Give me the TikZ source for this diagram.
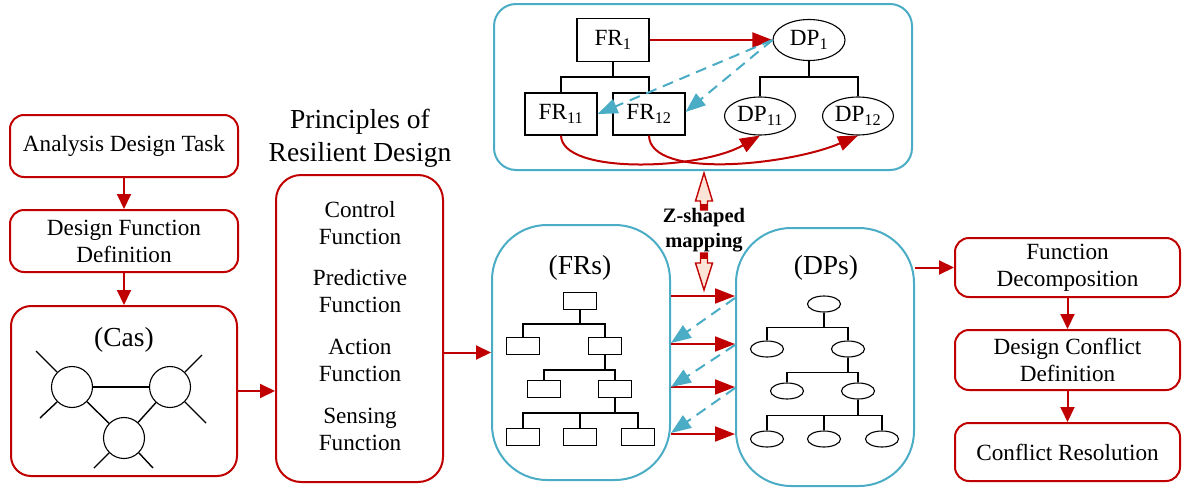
\documentclass[tikz,border=0pt]{standalone}
\usepackage{fontspec}
\setmainfont{Liberation Serif}
\usetikzlibrary{shapes.geometric,arrows.meta,calc}
\definecolor{boxred}{RGB}{192,0,0}
\definecolor{boxblue}{RGB}{75,172,198}
\definecolor{arrowfill}{RGB}{252,228,214}
\newcommand{\txtsize}{\fontsize{23.2}{27}\selectfont}
\newcommand{\bigsize}{\fontsize{27.5}{33}\selectfont}
\newcommand{\zsize}{\fontsize{20.5}{25}\selectfont}
\tikzset{
  redbox/.style={draw=boxred, line width=2pt, rounded corners=14pt, align=center, font=\txtsize, inner sep=0pt},
  bluebox/.style={draw=boxblue, line width=2pt, inner sep=0pt},
  redarrow/.style={draw=boxred, line width=2pt, -{Triangle[length=15pt,width=14pt]}},
  maparrow/.style={draw=boxred, line width=2pt, -{Triangle[length=20pt,width=15pt]}},
  bluedash/.style={draw=boxblue, line width=2pt, dash pattern=on 11pt off 7pt, -{Triangle[length=20pt,width=15pt]}},
  frleaf/.style={draw, line width=1.1pt, minimum width=33pt, minimum height=17pt, inner sep=0pt},
  dpleaf/.style={draw, ellipse, line width=1.1pt, minimum width=33pt, minimum height=16pt, inner sep=0pt},
  treeline/.style={line width=1.4pt},
  hollow/.style={draw=boxred, fill=arrowfill, line width=1.4pt, line join=miter},
}
\begin{document}
\begin{tikzpicture}[x=1pt,y=-1pt]
\useasboundingbox (0,0) rectangle (1186,490);
% left column
\node[redbox, minimum width=228pt, minimum height=62pt] (adt) at (124,146) {Analysis Design Task};
\node[redbox, minimum width=228pt, minimum height=62pt] (dfd) at (124,241) {Design Function\\Definition};
\node[redbox, rounded corners=20pt, minimum width=226pt, minimum height=170pt] (cas) at (124,391) {};
\node[font=\bigsize] (castitle) at (124,340) {(Cas)};
\node[circle, draw, line width=1.1pt, minimum size=41pt, inner sep=0pt] (ca) at (72,387) {};
\node[circle, draw, line width=1.1pt, minimum size=41pt, inner sep=0pt] (cb) at (170,387) {};
\node[circle, draw, line width=1.1pt, minimum size=41pt, inner sep=0pt] (cc) at (124,438) {};
\draw[treeline] (ca) -- (cb);
\draw[treeline] (ca) -- (cc);
\draw[treeline] (cb) -- (cc);
\draw[treeline] (ca.north west) -- (36,351);
\draw[treeline] (ca.south west) -- (40,418);
\draw[treeline] (cb.north east) -- (202,355);
\draw[treeline] (cb.south east) -- (206,423);
\draw[treeline] (cc.south west) -- (94,468);
\draw[treeline] (cc.south east) -- (153,468);
\draw[redarrow] (adt) -- (dfd);
\draw[redarrow] (dfd) -- (cas);
% principles
\node[font=\bigsize, align=center] (ptitle) at (360,138) {Principles of\\Resilient Design};
\node[redbox, rounded corners=25pt, minimum width=167pt, minimum height=307pt] (pbox) at (359.5,328.5) {};
\node[font=\txtsize, align=center] (pcontrol) at (360,223) {Control\\Function};
\node[font=\txtsize, align=center] (ppredict) at (360,291) {Predictive\\Function};
\node[font=\txtsize, align=center] (paction) at (360,360) {Action\\Function};
\node[font=\txtsize, align=center] (psensing) at (360,429) {Sensing\\Function};
\draw[redarrow] (cas.east) -- (cas.east -| pbox.west);
% FRs and DPs
\node[bluebox, rounded corners=55pt, minimum width=178pt, minimum height=255pt] (frs) at (581,352.5) {};
\node[bluebox, rounded corners=55pt, minimum width=178pt, minimum height=258pt] (dps) at (825,357) {};
\node[font=\bigsize] (frstitle) at (580,268) {(FRs)};
\node[font=\bigsize] (dpstitle) at (826,268) {(DPs)};
\draw[redarrow] (frs.west -| pbox.east) -- (frs.west);
\node[frleaf] (fa) at (580,301) {};
\node[frleaf] (fb) at (523,346) {};
\node[frleaf] (fc) at (605,346) {};
\node[frleaf] (fd) at (544,389) {};
\node[frleaf] (fe) at (615,389) {};
\node[frleaf] (ff) at (523,437) {};
\node[frleaf] (fg) at (580,437) {};
\node[frleaf] (fh) at (638,437) {};
\draw[treeline] (fa.south) -- ++(0,14) -| (fb.north);
\draw[treeline] (fa.south) -- ++(0,14) -| (fc.north);
\draw[treeline] (fc.south) -- ++(0,15) -| (fd.north);
\draw[treeline] (fc.south) -- ++(0,15) -| (fe.north);
\draw[treeline] (fe.south) -- ++(0,15) -| (ff.north);
\draw[treeline] (fe.south) -- ++(0,15) -| (fg.north);
\draw[treeline] (fe.south) -- ++(0,15) -| (fh.north);
\node[dpleaf] (da) at (824,304) {};
\node[dpleaf] (db) at (767,349) {};
\node[dpleaf] (dc) at (848,349) {};
\node[dpleaf] (dd) at (787,391) {};
\node[dpleaf] (de) at (858,391) {};
\node[dpleaf] (df) at (767,439) {};
\node[dpleaf] (dg) at (824,439) {};
\node[dpleaf] (dh) at (882,439) {};
\draw[treeline] (da.south) -- ++(0,15) -| (db.north);
\draw[treeline] (da.south) -- ++(0,15) -| (dc.north);
\draw[treeline] (dc.south) -- ++(0,15) -| (dd.north);
\draw[treeline] (dc.south) -- ++(0,15) -| (de.north);
\draw[treeline] (de.south) -- ++(0,16) -| (df.north);
\draw[treeline] (de.south) -- ++(0,16) -| (dg.north);
\draw[treeline] (de.south) -- ++(0,16) -| (dh.north);
\draw[maparrow] ([yshift=5pt]frs.east |- fa) -- ([yshift=5pt]dps.west |- fa);
\draw[maparrow] ([yshift=2pt]frs.east |- fb) -- ([yshift=2pt]dps.west |- fb);
\draw[maparrow] ([yshift=2pt]frs.east |- fd) -- ([yshift=2pt]dps.west |- fd);
\draw[maparrow] ([yshift=3pt]frs.east |- ff) -- ([yshift=3pt]dps.west |- ff);
\draw[bluedash] ([yshift=3pt]dps.west |- fa) -- ([yshift=3pt]frs.east |- fb);
\draw[bluedash] ([yshift=1pt]dps.west |- fb) -- ([yshift=2pt]frs.east |- fd);
\draw[bluedash] ([yshift=1pt]dps.west |- fd) -- ([yshift=4pt]frs.east |- ff);
% top mapping box
\node[bluebox, rounded corners=22pt, minimum width=418pt, minimum height=166pt] (topbox) at (703,87) {};
\node[draw, line width=1.1pt, minimum width=72pt, minimum height=43pt, inner sep=0pt, font=\txtsize] (fr1) at (613,40) {FR\textsubscript{1}};
\node[draw, ellipse, line width=1.1pt, minimum width=72pt, minimum height=41pt, inner sep=0pt, font=\txtsize] (dp1) at (809,40) {DP\textsubscript{1}};
\node[draw, line width=1.1pt, minimum width=72pt, minimum height=42pt, inner sep=0pt, font=\txtsize] (fr11) at (561,114) {FR\textsubscript{11}};
\node[draw, line width=1.1pt, minimum width=72pt, minimum height=42pt, inner sep=0pt, font=\txtsize] (fr12) at (649,114) {FR\textsubscript{12}};
\node[draw, ellipse, line width=1.1pt, minimum width=71pt, minimum height=38pt, inner sep=0pt, font=\txtsize] (dp11) at (760,116) {DP\textsubscript{11}};
\node[draw, ellipse, line width=1.1pt, minimum width=71pt, minimum height=38pt, inner sep=0pt, font=\txtsize] (dp12) at (858,116) {DP\textsubscript{12}};
\draw[treeline] (fr1.south) -- ++(0,15) -| (fr11.north);
\draw[treeline] (fr1.south) -- ++(0,15) -| (fr12.north);
\draw[treeline] (dp1.south) -- ++(0,16) -| (dp11.north);
\draw[treeline] (dp1.south) -- ++(0,16) -| (dp12.north);
\draw[maparrow] (fr1) -- (dp1);
\draw[bluedash] (dp1.west) -- (fr11.east);
\draw[bluedash] (dp1.west) -- ([yshift=2pt]fr12.east);
\draw[maparrow] (fr11.south) .. controls (562,175) and (700,170) .. (dp11.south);
\draw[maparrow] (fr12.south) .. controls (650,180) and (790,165) .. (dp12.south);
% Z-shaped mapping
\node[font=\zsize\bfseries, align=center] (zmap) at (704,230) {Z-shaped\\mapping};
\draw[hollow] (704,173) -- (712.5,201) -- (707.5,201) -- (707.5,210) -- (700.5,210) -- (700.5,201) -- (695.5,201) -- cycle;
\fill[boxred] (700.5,204) rectangle (707.5,210);
\draw[hollow] (704,290) -- (712.5,263) -- (707.5,263) -- (707.5,253) -- (700.5,253) -- (700.5,263) -- (695.5,263) -- cycle;
\fill[boxred] (700.5,253) rectangle (707.5,259);
% right column
\node[redbox, minimum width=225pt, minimum height=59pt] (fdec) at (1067.5,267.5) {Function\\Decomposition};
\node[redbox, minimum width=225pt, minimum height=60pt] (dcd) at (1067.5,360) {Design Conflict\\Definition};
\node[redbox, minimum width=225pt, minimum height=58pt] (cres) at (1067.5,452) {Conflict Resolution};
\draw[redarrow] (fdec.west -| dps.east) -- (fdec.west);
\draw[redarrow] (fdec) -- (dcd);
\draw[redarrow] (dcd) -- (cres);
\end{tikzpicture}
\end{document}
